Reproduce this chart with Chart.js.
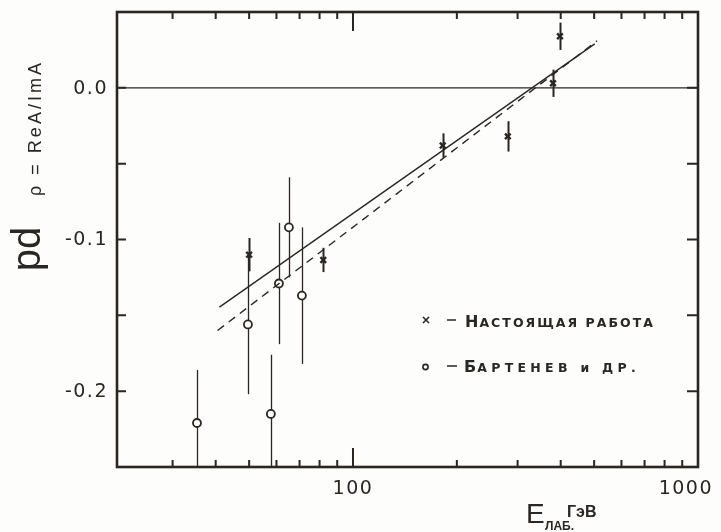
<!DOCTYPE html>
<html>
<head>
<meta charset="utf-8">
<script src="https://cdn.jsdelivr.net/npm/chart.js@4.4.1/dist/chart.umd.min.js"></script>
<style>
  html, body { margin: 0; padding: 0; background: #fdfdfb; }
</style>
</head>
<body>
<canvas id="chart" width="721" height="532"></canvas>
<script>
// "x" - present work
const crossE = [50, 82, 182, 281, 380, 398];
const crossRho = [-0.110, -0.1135, -0.038, -0.032, 0.003, 0.034];
const crossErr = [0.011, 0.008, 0.008, 0.010, 0.009, 0.009];

// "o" - Bartenev et al.
const circleE = [35.3, 49.6, 57.8, 61, 65.2, 71.1];
const circleRho = [-0.221, -0.156, -0.215, -0.129, -0.092, -0.137];
const circleErr = [0.035, 0.046, 0.039, 0.040, 0.033, 0.045];

// fitted curves (straight in log E)
const solidE = [41, 502];
const solidRho = [-0.1446, 0.029];
const dashE = [40.5, 510];
const dashRho = [-0.160, 0.031];

const zeroE = [20.7, 1000];
const zeroRho = [0, 0];

// axes
const xMin = 20.7, xMax = 1000;
const yMin = -0.25, yMax = 0.05;
const xMinorTicks = [30, 40, 50, 60, 70, 80, 90, 200, 300, 400, 500, 600, 700, 800, 900];
const xLabelTicks = [100, 1000];
const xLabels = ['100', '1000'];
const yTicks = [-0.2, -0.15, -0.1, -0.05, 0];
const yLabelTicks = [0, -0.1, -0.2];
const yLabels = ['0.0', '-0.1', '-0.2'];

const ink = '#2a2622';

const pts = (xs, ys) => xs.map((x, i) => ({x: x, y: ys[i]}));

const paperPlugin = {
    id: 'paper',
    beforeDatasetsDraw(chart) {
        const {ctx, chartArea: a, scales: {x, y}} = chart;
        ctx.save();
        ctx.beginPath();
        ctx.rect(a.left, a.top, a.right - a.left, a.bottom - a.top);
        ctx.clip();
        ctx.strokeStyle = ink;
        ctx.lineWidth = 1.3;
        const bar = (e, v, err) => {
            const px = Math.round(x.getPixelForValue(e)) + 0.5;
            ctx.beginPath();
            ctx.moveTo(px, y.getPixelForValue(v + err));
            ctx.lineTo(px, y.getPixelForValue(v - err));
            ctx.stroke();
        };
        circleE.forEach((e, i) => bar(e, circleRho[i], circleErr[i]));
        ctx.lineWidth = 2;
        crossE.forEach((e, i) => bar(e, crossRho[i], crossErr[i]));
        ctx.restore();
    },
    afterDraw(chart) {
        const {ctx, chartArea: a, scales: {x, y}} = chart;
        ctx.save();
        ctx.strokeStyle = ink;
        ctx.fillStyle = ink;

        // frame
        ctx.lineWidth = 2.6;
        ctx.strokeRect(a.left, a.top, a.right - a.left, a.bottom - a.top);

        // inward ticks
        ctx.lineWidth = 2;
        const xTick = (v, len) => {
            const px = x.getPixelForValue(v);
            ctx.beginPath();
            ctx.moveTo(px, a.bottom); ctx.lineTo(px, a.bottom - len);
            ctx.moveTo(px, a.top); ctx.lineTo(px, a.top + len);
            ctx.stroke();
        };
        xMinorTicks.forEach(v => xTick(v, 7));
        xLabelTicks.forEach(v => xTick(v, 19));
        yTicks.forEach(v => {
            const py = y.getPixelForValue(v);
            ctx.beginPath();
            ctx.moveTo(a.left, py); ctx.lineTo(a.left + 9, py);
            ctx.moveTo(a.right, py); ctx.lineTo(a.right - 11, py);
            ctx.stroke();
        });

        // tick labels
        ctx.font = '19px "DejaVu Sans"';
        ctx.letterSpacing = '1.5px';
        ctx.textAlign = 'right';
        ctx.textBaseline = 'middle';
        yLabelTicks.forEach((v, i) => ctx.fillText(yLabels[i], a.left - 9, y.getPixelForValue(v) + 1));
        ctx.textAlign = 'center';
        ctx.textBaseline = 'alphabetic';
        xLabelTicks.forEach((v, i) => {
            const w = ctx.measureText(xLabels[i]).width;
            const px = Math.min(x.getPixelForValue(v), chart.width - w / 2 - 8);
            ctx.fillText(xLabels[i], px, a.bottom + 27);
        });

        // y title
        ctx.save();
        ctx.translate(41, 128);
        ctx.rotate(-Math.PI / 2);
        ctx.font = '18px "Liberation Sans"';
        ctx.letterSpacing = '3px';
        ctx.fillText('ρ = ReA/ImA', 0, 0);
        ctx.restore();
        ctx.save();
        ctx.translate(40, 249);
        ctx.rotate(-Math.PI / 2);
        ctx.font = '40px "Liberation Sans"';
        ctx.letterSpacing = '0px';
        ctx.fillText('pd', 0, 0);
        ctx.restore();

        // x title
        ctx.letterSpacing = '0px';
        ctx.textAlign = 'left';
        ctx.font = '28px "Liberation Sans"';
        ctx.fillText('E', 526, 523);
        ctx.font = 'bold 12px "Liberation Sans"';
        ctx.fillText('ЛАБ.', 545, 530);
        ctx.font = 'bold 16px "Liberation Sans"';
        ctx.fillText('ГэВ', 567, 517);

        // legend
        const smallCaps = (big, rest, x0, base, x1) => {
            ctx.letterSpacing = '0px';
            ctx.font = 'bold 16px "DejaVu Sans"';
            ctx.fillText(big, x0, base);
            const bw = ctx.measureText(big).width + 1;
            ctx.font = 'bold 12.5px "DejaVu Sans"';
            const rw = ctx.measureText(rest).width;
            const gap = Math.max(0, (x1 - x0 - bw - rw) / rest.length);
            ctx.letterSpacing = gap.toFixed(2) + 'px';
            ctx.fillText(rest, x0 + bw, base);
            ctx.letterSpacing = '0px';
        };
        ctx.lineWidth = 1.6;
        ctx.beginPath();
        ctx.moveTo(423, 317); ctx.lineTo(429, 323);
        ctx.moveTo(429, 317); ctx.lineTo(423, 323);
        ctx.moveTo(447, 320); ctx.lineTo(456, 320);
        ctx.moveTo(447, 366); ctx.lineTo(457, 366);
        ctx.stroke();
        ctx.beginPath();
        ctx.arc(425.5, 367, 2.6, 0, Math.PI * 2);
        ctx.stroke();
        smallCaps('Н', 'АСТОЯЩАЯ РАБОТА', 465, 327, 655);
        smallCaps('Б', 'АРТЕНЕВ и ДР.', 464, 372, 640);

        ctx.restore();
    }
};

new Chart(document.getElementById('chart'), {
    type: 'scatter',
    data: {
        datasets: [
            {
                data: pts(zeroE, zeroRho),
                showLine: true,
                borderColor: ink,
                borderWidth: 1.3,
                pointRadius: 0
            },
            {
                data: pts(solidE, solidRho),
                showLine: true,
                borderColor: ink,
                borderWidth: 1.4,
                pointRadius: 0
            },
            {
                data: pts(dashE, dashRho),
                showLine: true,
                borderColor: ink,
                borderWidth: 1.4,
                borderDash: [8, 6],
                pointRadius: 0
            },
            {
                data: pts(crossE, crossRho),
                pointStyle: 'crossRot',
                pointRadius: 4,
                borderColor: ink,
                borderWidth: 2.4
            },
            {
                data: pts(circleE, circleRho),
                pointStyle: 'circle',
                pointRadius: 4,
                backgroundColor: '#fdfdfb',
                borderColor: ink,
                borderWidth: 1.8
            }
        ]
    },
    options: {
        responsive: false,
        animation: false,
        events: [],
        layout: {
            padding: {left: 117, top: 12, right: 23, bottom: 65}
        },
        scales: {
            x: {type: 'logarithmic', min: xMin, max: xMax, display: false},
            y: {type: 'linear', min: yMin, max: yMax, display: false}
        },
        plugins: {
            legend: {display: false},
            tooltip: {enabled: false}
        }
    },
    plugins: [paperPlugin]
});
</script>
</body>
</html>
